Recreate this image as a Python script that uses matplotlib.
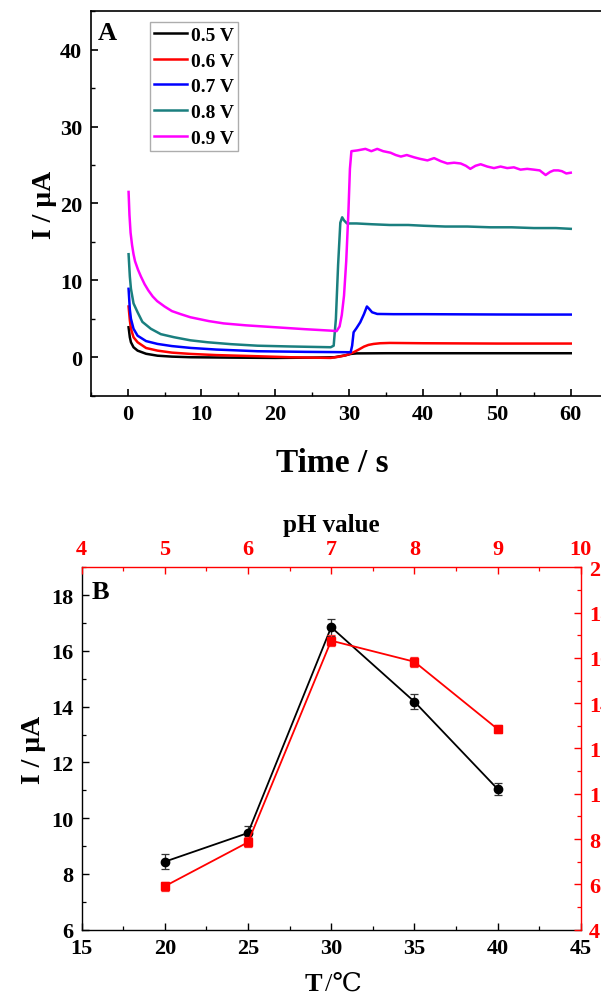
import numpy as np
import matplotlib
matplotlib.use("Agg")
import matplotlib.pyplot as plt
from matplotlib.ticker import MultipleLocator

plt.rcParams['font.family'] = ['Liberation Serif', 'DejaVu Serif', 'Noto Sans CJK SC']
plt.rcParams['font.weight'] = 'bold'
plt.rcParams['axes.labelweight'] = 'bold'

# ---- panel A: current vs time at different potentials ----
t_05 = [0.13, 0.3, 0.45, 0.8, 1.35, 2.5, 4.05, 6, 8.55, 14, 20, 25, 28, 29.5, 30.2, 31, 35, 40, 50, 60]
i_05 = [3.9, 2.6, 1.95, 1.3, 0.86, 0.45, 0.2, 0.08, 0.0, -0.05, -0.09, -0.05, 0.0, 0.25, 0.43, 0.5, 0.52, 0.52, 0.52, 0.52]

t_06 = [0.13, 0.3, 0.45, 0.8, 1.35, 2.5, 4.05, 6, 8.55, 12, 17.6, 22, 27.5, 28.5, 29.3, 30.0, 30.6, 31.3, 32.0,
        32.6, 33.3, 34.2, 35.5, 40, 45, 50, 55, 60]
i_06 = [6.6, 4.8, 3.7, 2.6, 1.95, 1.2, 0.86, 0.6, 0.43, 0.28, 0.13, 0.0, -0.09, 0.05, 0.2, 0.4, 0.65, 1.0, 1.38,
        1.6, 1.73, 1.82, 1.86, 1.82, 1.8, 1.78, 1.78, 1.78]

t_07 = [0.13, 0.3, 0.45, 0.8, 1.35, 2.5, 4.05, 6, 8.55, 12, 17.6, 24, 30.2, 30.4, 30.6, 31.0, 31.5, 32.0, 32.4,
        32.7, 33.1, 33.8, 36, 40, 45, 50, 55, 60]
i_07 = [8.9, 6.2, 5.0, 3.7, 2.8, 2.1, 1.73, 1.45, 1.21, 1.0, 0.78, 0.7, 0.65, 1.5, 3.25, 3.8, 4.55, 5.6, 6.6,
        6.3, 5.85, 5.63, 5.6, 5.6, 5.58, 5.56, 5.55, 5.55]

t_08 = [0.13, 0.3, 0.45, 0.8, 1.35, 2.0, 3.15, 4.5, 6.3, 8.5, 10.8, 14, 17.6, 22, 27.5, 27.9, 28.2, 28.5, 28.8,
        29.05, 29.3, 29.7, 31, 33, 35.5, 38, 40.1, 43, 46, 49.1, 52, 55, 58, 60]
i_08 = [13.4, 10.5, 8.9, 7.0, 5.85, 4.6, 3.7, 3.0, 2.6, 2.2, 1.95, 1.7, 1.5, 1.4, 1.3, 1.5, 5.0, 12.0, 17.5,
        18.2, 17.8, 17.4, 17.4, 17.3, 17.2, 17.2, 17.1, 17.0, 17.0, 16.9, 16.9, 16.8, 16.8, 16.7]

t_09 = [0.13, 0.25, 0.4, 0.6, 0.8, 1.0, 1.4, 1.8, 2.3, 2.8, 3.4, 4.0, 5.0, 6.0, 7.2, 8.5, 11, 13, 16, 20, 24, 27.5,
        28.3, 28.7, 29.0, 29.3, 29.6, 29.9, 30.1, 30.3, 31.1, 32.2, 33.0, 33.8, 34.6, 35.6, 36.3, 37.0, 37.8,
        38.8, 39.6, 40.6, 41.5, 42.4, 43.3, 44.2, 45.1, 45.8, 46.4, 47.1, 47.8, 48.7, 49.6, 50.5, 51.4, 52.3,
        53.2, 54.1, 55.0, 55.8, 56.6, 57.2, 57.7, 58.3, 58.8, 59.4, 60.0]
i_09 = [21.5, 18.5, 16.2, 14.6, 13.4, 12.5, 11.4, 10.5, 9.5, 8.7, 7.9, 7.3, 6.6, 6.0, 5.6, 5.2, 4.7, 4.4, 4.15, 3.9,
        3.65, 3.46, 3.4, 4.0, 5.5, 8.0, 12.5, 19.0, 24.5, 26.8, 26.9, 27.1, 26.8, 27.1, 26.8, 26.6, 26.3, 26.1,
        26.3, 26.0, 25.8, 25.6, 25.9, 25.5, 25.2, 25.3, 25.2, 24.9, 24.5, 24.9, 25.1, 24.8, 24.6, 24.8, 24.6,
        24.7, 24.4, 24.5, 24.4, 24.3, 23.7, 24.1, 24.3, 24.3, 24.2, 23.9, 24.0]

labels_a = ['0.5 V', '0.6 V', '0.7 V', '0.8 V', '0.9 V']
colors_a = ['black', '#ff0000', '#0000ff', '#1a7f7f', '#ff00ff']

# ---- panel B: temperature and pH effect ----
temp = [20, 25, 30, 35, 40]
i_temp = [8.44, 9.47, 16.85, 14.18, 11.05]
err_temp = [0.27, 0.25, 0.3, 0.28, 0.22]

ph = [5, 6, 7, 8, 9]
i_ph = [5.92, 7.86, 16.76, 15.83, 12.86]
err_ph = [0.2, 0.22, 0.25, 0.22, 0.18]

fig = plt.figure(figsize=(6.01, 10.04), dpi=100)

# ---------- A ----------
axA = fig.add_axes([0.1509, 0.6049, 0.8602, 0.3829])
series = [(t_05, i_05), (t_06, i_06), (t_07, i_07), (t_08, i_08), (t_09, i_09)]
for (t, i), lab, c in zip(series, labels_a, colors_a):
    axA.plot(t, i, color=c, lw=1.8, label=lab)

axA.set_xlim(-5, 65)
axA.set_ylim(-5, 45)
axA.xaxis.set_major_locator(MultipleLocator(10))
axA.xaxis.set_minor_locator(MultipleLocator(5))
axA.yaxis.set_major_locator(MultipleLocator(10))
axA.yaxis.set_minor_locator(MultipleLocator(5))
axA.set_xticks(range(0, 61, 10))
axA.tick_params(which='major', direction='in', length=5, width=1.2, labelsize=16, pad=6)
axA.tick_params(which='minor', direction='in', length=3, width=1.0)
for s in axA.spines.values():
    s.set_linewidth(1.2)
axA.tick_params(top=False, right=False)
axA.set_ylabel('I / μA', fontsize=20, labelpad=2)
fig.text(332 / 601, 1 - 464 / 1004, 'Time / s', fontsize=24, ha='center', va='center')
axA.text(0.014, 0.975, 'A', transform=axA.transAxes, fontsize=19, va='top', ha='left')

leg = axA.legend(loc='upper left', bbox_to_anchor=(0.1147, 0.9714), frameon=True, fancybox=False,
                 prop={'size': 14, 'weight': 'bold'}, handlelength=1.7, handletextpad=0.2,
                 labelspacing=0.42, borderpad=0.2, borderaxespad=0)
leg.get_frame().set_edgecolor('#999999')
leg.get_frame().set_linewidth(1.0)

# ---------- B ----------
rect_b = [0.1359, 0.0730, 0.8303, 0.3610]
axB = fig.add_axes(rect_b)
axB.errorbar(temp, i_temp, yerr=err_temp, color='black', marker='o', ms=6, lw=1.3,
             capsize=3, elinewidth=0.9, capthick=0.9, ecolor='#333333')
axB.set_xlim(15, 45)
axB.set_ylim(6, 19)
axB.xaxis.set_major_locator(MultipleLocator(5))
axB.xaxis.set_minor_locator(MultipleLocator(2.5))
axB.yaxis.set_major_locator(MultipleLocator(2))
axB.yaxis.set_minor_locator(MultipleLocator(1))
axB.tick_params(which='major', direction='in', length=5, width=1.0, labelsize=16, pad=6)
axB.tick_params(which='minor', direction='in', length=3, width=0.9)
axB.tick_params(which='both', top=False, right=False)
axB.spines['top'].set_visible(False)
axB.spines['right'].set_visible(False)
axB.spines['left'].set_linewidth(1.0)
axB.spines['bottom'].set_linewidth(1.0)
axB.set_ylabel('I / μA', fontsize=20, labelpad=4)
axB.text(0.02, 0.965, 'B', transform=axB.transAxes, fontsize=19, va='top', ha='left')

fig.text(322 / 601, 1 - 985 / 1004, 'T', fontsize=19, ha='right', va='center', weight='bold')
fig.text(325 / 601, 1 - 985 / 1004, '/℃', fontsize=19, ha='left', va='center', weight='normal')

axP = fig.add_axes(rect_b, facecolor='none')
axP.errorbar(ph, i_ph, yerr=err_ph, color='#ff0000', marker='s', ms=6, lw=1.3,
             capsize=3, elinewidth=0.9, capthick=0.9, ecolor='#ff3333')
axP.set_xlim(4, 10)
axP.set_ylim(4, 20)
axP.xaxis.tick_top()
axP.yaxis.tick_right()
axP.xaxis.set_label_position('top')
axP.xaxis.set_major_locator(MultipleLocator(1))
axP.xaxis.set_minor_locator(MultipleLocator(0.5))
axP.yaxis.set_major_locator(MultipleLocator(2))
axP.yaxis.set_minor_locator(MultipleLocator(1))
axP.tick_params(which='major', direction='in', length=5, width=1.0, labelsize=16, pad=6,
                colors='#ff0000')
axP.tick_params(which='minor', direction='in', length=3, width=0.9, colors='#ff0000')
axP.spines['left'].set_visible(False)
axP.spines['bottom'].set_visible(False)
axP.spines['top'].set_color('#ff0000')
axP.spines['right'].set_color('#ff0000')
axP.spines['top'].set_linewidth(1.0)
axP.spines['right'].set_linewidth(1.0)
axP.set_xlabel('pH value', fontsize=18, labelpad=6, color='black')

fig.savefig('out.png', dpi=100)
